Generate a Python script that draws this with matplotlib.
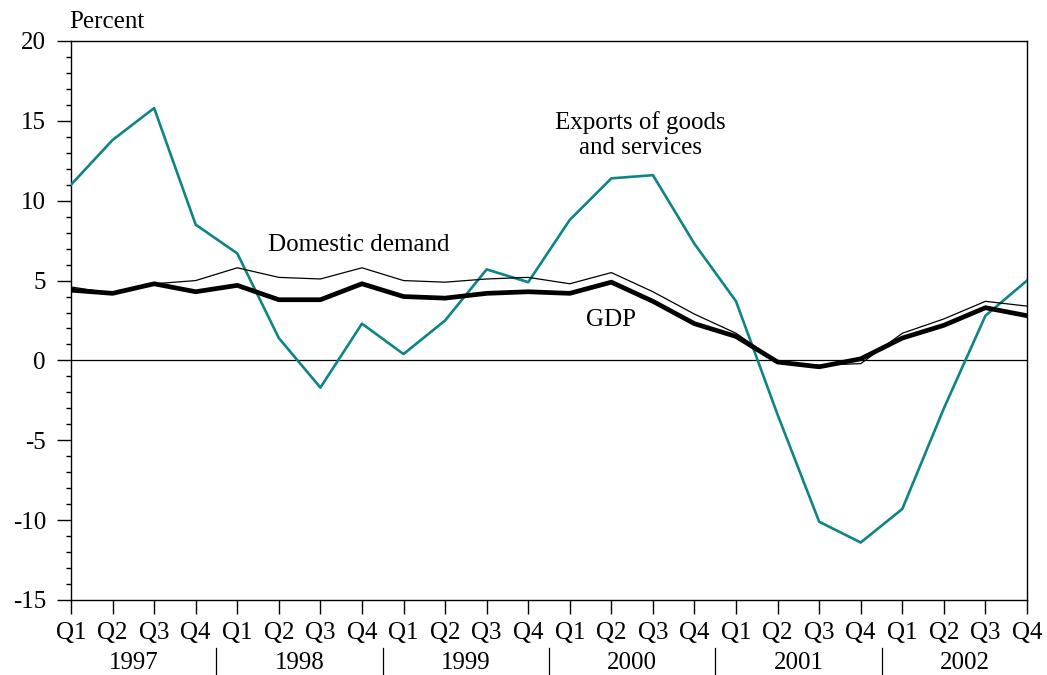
import matplotlib
matplotlib.use("Agg")
import matplotlib.pyplot as plt
from matplotlib.transforms import blended_transform_factory
from matplotlib.ticker import MultipleLocator

plt.rcParams['font.family'] = ['Liberation Serif', 'DejaVu Serif']
plt.rcParams['axes.unicode_minus'] = False

quarters = ["Q1", "Q2", "Q3", "Q4"] * 6
years = ["1997", "1998", "1999", "2000", "2001", "2002"]

exports = [11.0, 13.8, 15.8, 8.5, 6.7, 1.4, -1.7, 2.3,
           0.4, 2.5, 5.7, 4.9, 8.8, 11.4, 11.6, 7.3,
           3.7, -3.4, -10.1, -11.4, -9.3, -3.0, 2.8, 5.0]
domestic = [4.6, 4.2, 4.8, 5.0, 5.8, 5.2, 5.1, 5.8,
            5.0, 4.9, 5.1, 5.2, 4.8, 5.5, 4.3, 2.9,
            1.7, -0.1, -0.3, -0.2, 1.7, 2.6, 3.7, 3.4]
gdp = [4.4, 4.2, 4.8, 4.3, 4.7, 3.8, 3.8, 4.8,
       4.0, 3.9, 4.2, 4.3, 4.2, 4.9, 3.7, 2.3,
       1.5, -0.1, -0.4, 0.1, 1.4, 2.2, 3.3, 2.8]

x = list(range(len(quarters)))
FS = 18

fig = plt.figure(figsize=(10.47, 6.75), dpi=100)
ax = fig.add_axes([71/1047, 1 - 600/675, (1027 - 71)/1047, (600 - 41)/675])

ax.axhline(0, color='black', lw=0.9, zorder=1)
ax.plot(x, exports, color='#0e8585', lw=1.9, zorder=3)
ax.plot(x, domestic, color='black', lw=0.9, zorder=4)
ax.plot(x, gdp, color='black', lw=3.4, zorder=5)

ax.set_xlim(0, len(x) - 1)
ax.set_ylim(-15, 20)
ax.yaxis.set_major_locator(MultipleLocator(5))
ax.yaxis.set_minor_locator(MultipleLocator(1))
ax.set_xticks(x)
ax.set_xticklabels(quarters)
ax.tick_params(axis='x', direction='out', length=10, width=1, pad=6, labelsize=FS)
ax.tick_params(axis='y', which='major', direction='out', length=10, width=1, pad=8, labelsize=FS)
ax.tick_params(axis='y', which='minor', direction='out', length=3.6, width=1)
for s in ax.spines.values():
    s.set_linewidth(1.0)

trans = blended_transform_factory(ax.transData, fig.transFigure)
for i, yr in enumerate(years):
    ax.text(4 * i + 1.5, 1 - 663/675, yr, transform=trans, ha='center', va='center', fontsize=FS)
for i in range(1, len(years)):
    ax.plot([4 * i - 0.5, 4 * i - 0.5], [1 - 648/675, 0.0], transform=trans,
            color='black', lw=0.9, clip_on=False)

ax.annotate("Percent", xy=(0, 1), xycoords='axes fraction', xytext=(-1, 6),
            textcoords='offset points', ha='left', va='bottom', fontsize=FS)

ax.text(13.69, 14.1, "Exports of goods\nand services", ha='center', va='center',
        fontsize=FS, linespacing=1.15)
ax.text(6.93, 7.25, "Domestic demand", ha='center', va='center', fontsize=FS)
ax.text(13.0, 2.5, "GDP", ha='center', va='center', fontsize=FS)

fig.savefig("out.png", dpi=100)
